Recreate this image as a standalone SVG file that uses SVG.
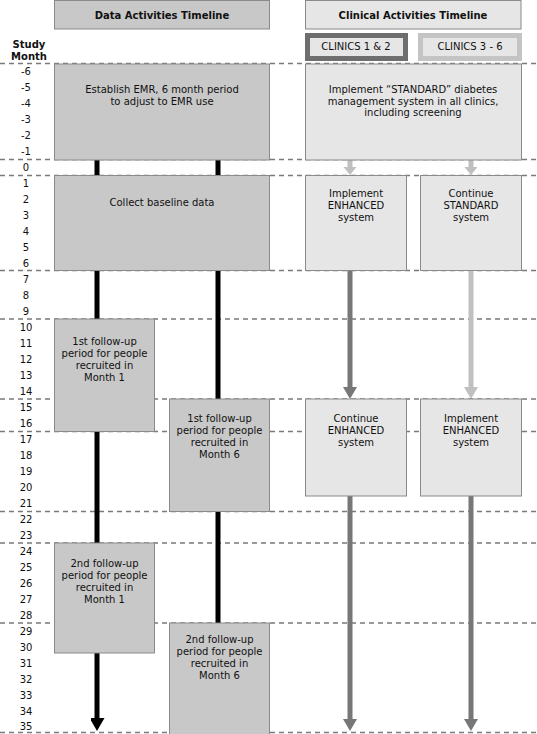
<svg xmlns="http://www.w3.org/2000/svg" width="537" height="734" viewBox="0 0 537 734">
<style>
text{font-family:"DejaVu Sans",Verdana,"Liberation Sans",sans-serif;font-size:10px;fill:#111;}
.b{font-weight:bold;}
.c{text-anchor:middle;}
.grid{stroke:#7a7a7a;stroke-width:1.5;stroke-dasharray:5,4;fill:none;}
.dbox{fill:#c8c8c8;stroke:#8a8a8a;stroke-width:1;}
.cbox{fill:#e6e6e6;stroke:#8a8a8a;stroke-width:1;}
.blk{stroke:#000;stroke-width:5;fill:none;}
.drk{stroke:#777;stroke-width:5;fill:none;}
.lgt{stroke:#c0c0c0;stroke-width:5;fill:none;}
</style>
<defs>
<marker id="hb" markerUnits="userSpaceOnUse" markerWidth="16" markerHeight="14" refX="0" refY="7.5" orient="auto"><path d="M0,0 L13,7.5 L0,15 z" fill="#000"/></marker>
<marker id="hd" markerUnits="userSpaceOnUse" markerWidth="16" markerHeight="14" refX="0" refY="7" orient="auto"><path d="M0,0 L12,7 L0,14 z" fill="#777"/></marker>
<marker id="hl" markerUnits="userSpaceOnUse" markerWidth="16" markerHeight="14" refX="0" refY="7" orient="auto"><path d="M0,0 L12,7 L0,14 z" fill="#c0c0c0"/></marker>
<marker id="hls" markerUnits="userSpaceOnUse" markerWidth="16" markerHeight="14" refX="0" refY="6.5" orient="auto"><path d="M0,0 L8,6.5 L0,13 z" fill="#c0c0c0"/></marker>
</defs>
<rect width="537" height="734" fill="#fff"/>
<g id="grid">
<line class="grid" x1="0" y1="63.5" x2="537" y2="63.5"/>
<line class="grid" x1="0" y1="159.5" x2="537" y2="159.5"/>
<line class="grid" x1="0" y1="175.5" x2="537" y2="175.5"/>
<line class="grid" x1="0" y1="270.5" x2="537" y2="270.5"/>
<line class="grid" x1="0" y1="319" x2="537" y2="319"/>
<line class="grid" x1="0" y1="399" x2="537" y2="399"/>
<line class="grid" x1="0" y1="431.5" x2="537" y2="431.5"/>
<line class="grid" x1="0" y1="511.5" x2="537" y2="511.5"/>
<line class="grid" x1="0" y1="543" x2="537" y2="543"/>
<line class="grid" x1="0" y1="623" x2="537" y2="623"/>
<line class="grid" x1="0" y1="732.5" x2="537" y2="732.5"/>
</g>
<g id="months">
<text class="b c" x="29" y="48">Study</text>
<text class="b c" x="29" y="60">Month</text>
<g class="c">
<text class="c" x="26" y="74.5">-6</text>
<text class="c" x="26" y="90.5">-5</text>
<text class="c" x="26" y="106.5">-4</text>
<text class="c" x="26" y="122.5">-3</text>
<text class="c" x="26" y="138.5">-2</text>
<text class="c" x="26" y="154.5">-1</text>
<text class="c" x="26" y="170.5">0</text>
<text class="c" x="26" y="186.5">1</text>
<text class="c" x="26" y="202.5">2</text>
<text class="c" x="26" y="218.5">3</text>
<text class="c" x="26" y="234.5">4</text>
<text class="c" x="26" y="250.5">5</text>
<text class="c" x="26" y="266.5">6</text>
<text class="c" x="26" y="282.5">7</text>
<text class="c" x="26" y="298.5">8</text>
<text class="c" x="26" y="314.5">9</text>
<text class="c" x="26" y="330.5">10</text>
<text class="c" x="26" y="346.5">11</text>
<text class="c" x="26" y="362.5">12</text>
<text class="c" x="26" y="378.5">13</text>
<text class="c" x="26" y="394.5">14</text>
<text class="c" x="26" y="410.5">15</text>
<text class="c" x="26" y="426.5">16</text>
<text class="c" x="26" y="442.5">17</text>
<text class="c" x="26" y="458.5">18</text>
<text class="c" x="26" y="474.5">19</text>
<text class="c" x="26" y="490.5">20</text>
<text class="c" x="26" y="506.5">21</text>
<text class="c" x="26" y="522.5">22</text>
<text class="c" x="26" y="538.5">23</text>
<text class="c" x="26" y="554.5">24</text>
<text class="c" x="26" y="570.5">25</text>
<text class="c" x="26" y="586.5">26</text>
<text class="c" x="26" y="602.5">27</text>
<text class="c" x="26" y="618.5">28</text>
<text class="c" x="26" y="634.5">29</text>
<text class="c" x="26" y="650.5">30</text>
<text class="c" x="26" y="666.5">31</text>
<text class="c" x="26" y="682.5">32</text>
<text class="c" x="26" y="698.5">33</text>
<text class="c" x="26" y="714.5">34</text>
<text class="c" x="26" y="730">35</text>
</g>
</g>
<g id="connectors">
<line class="blk" x1="97" y1="160" x2="97" y2="718" marker-end="url(#hb)"/>
<line class="blk" x1="218" y1="160" x2="218" y2="623"/>
<line class="lgt" x1="350" y1="160" x2="350" y2="167" marker-end="url(#hls)"/>
<line class="lgt" x1="471" y1="160" x2="471" y2="167" marker-end="url(#hls)"/>
<line class="drk" x1="350" y1="271" x2="350" y2="387" marker-end="url(#hd)"/>
<line class="lgt" x1="471" y1="271" x2="471" y2="387" marker-end="url(#hl)"/>
<line class="drk" x1="350" y1="496" x2="350" y2="719" marker-end="url(#hd)"/>
<line class="drk" x1="471" y1="496" x2="471" y2="719" marker-end="url(#hd)"/>
</g>
<g id="hdr-data">
<rect class="dbox" x="54.5" y="0.5" width="215" height="28.5"/>
<text class="b c" x="162" y="19">Data Activities Timeline</text>
</g>
<g id="hdr-clin">
<rect class="cbox" x="305.5" y="0.5" width="215.5" height="28.5"/>
<text class="b c" x="413" y="19">Clinical Activities Timeline</text>
</g>
<g id="clinics12">
<rect x="307.5" y="35.5" width="98" height="23" fill="#e6e6e6" stroke="#6e6e6e" stroke-width="5"/>
<text class="c" x="356" y="50">CLINICS 1 &amp; 2</text>
</g>
<g id="clinics36">
<rect x="420.5" y="35.5" width="99" height="23" fill="#e6e6e6" stroke="#c4c4c4" stroke-width="5"/>
<text class="c" x="470" y="50">CLINICS 3 - 6</text>
</g>
<g id="emr">
<rect class="dbox" x="54.5" y="64" width="215" height="96"/>
<text class="c" x="162" y="93">Establish EMR, 6 month period</text>
<text class="c" x="162" y="104.5">to adjust to EMR use</text>
</g>
<g id="baseline">
<rect class="dbox" x="54.5" y="175.5" width="215" height="95"/>
<text class="c" x="162" y="206">Collect baseline data</text>
</g>
<g id="fu1m1">
<rect class="dbox" x="54.5" y="319" width="100" height="112.5"/>
<text class="c" x="104.5" y="345">1st follow-up</text>
<text class="c" x="104.5" y="357">period for people</text>
<text class="c" x="104.5" y="369">recruited in</text>
<text class="c" x="104.5" y="381">Month 1</text>
</g>
<g id="fu1m6">
<rect class="dbox" x="169.5" y="399" width="100" height="112.5"/>
<text class="c" x="219.5" y="422">1st follow-up</text>
<text class="c" x="219.5" y="434">period for people</text>
<text class="c" x="219.5" y="446">recruited in</text>
<text class="c" x="219.5" y="458">Month 6</text>
</g>
<g id="fu2m1">
<rect class="dbox" x="54.5" y="543" width="100" height="110"/>
<text class="c" x="104.5" y="567">2nd follow-up</text>
<text class="c" x="104.5" y="579">period for people</text>
<text class="c" x="104.5" y="591">recruited in</text>
<text class="c" x="104.5" y="603">Month 1</text>
</g>
<g id="fu2m6">
<rect class="dbox" x="169.5" y="623" width="100" height="115"/>
<text class="c" x="219.5" y="643">2nd follow-up</text>
<text class="c" x="219.5" y="655">period for people</text>
<text class="c" x="219.5" y="667">recruited in</text>
<text class="c" x="219.5" y="679">Month 6</text>
</g>
<g id="standard">
<rect class="cbox" x="305.5" y="64" width="216" height="96"/>
<text class="c" x="413" y="93">Implement “STANDARD” diabetes</text>
<text class="c" x="413" y="104.5">management system in all clinics,</text>
<text class="c" x="413" y="116">including screening</text>
</g>
<g id="impl-enh-12">
<rect class="cbox" x="305.5" y="175.5" width="101" height="95"/>
<text class="c" x="356" y="197">Implement</text>
<text class="c" x="356" y="209">ENHANCED</text>
<text class="c" x="356" y="221">system</text>
</g>
<g id="cont-std-36">
<rect class="cbox" x="420.5" y="175.5" width="101" height="95"/>
<text class="c" x="471" y="197">Continue</text>
<text class="c" x="471" y="209">STANDARD</text>
<text class="c" x="471" y="221">system</text>
</g>
<g id="cont-enh-12">
<rect class="cbox" x="305.5" y="399" width="101" height="97"/>
<text class="c" x="356" y="422">Continue</text>
<text class="c" x="356" y="434">ENHANCED</text>
<text class="c" x="356" y="446">system</text>
</g>
<g id="impl-enh-36">
<rect class="cbox" x="420.5" y="399" width="101" height="97"/>
<text class="c" x="471" y="422">Implement</text>
<text class="c" x="471" y="434">ENHANCED</text>
<text class="c" x="471" y="446">system</text>
</g>
</svg>
